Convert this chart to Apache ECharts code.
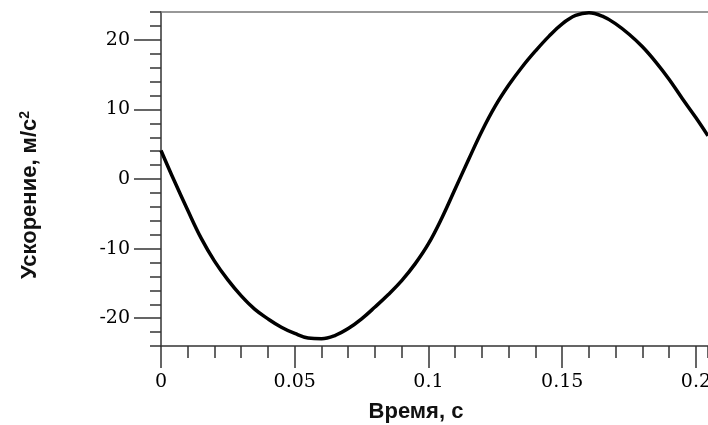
<!DOCTYPE html>
<html>
<head>
<meta charset="utf-8">
<title>Ускорение</title>
<script src="https://cdn.jsdelivr.net/npm/echarts@6/dist/echarts.min.js"></script>
<style>
    html, body { margin: 0; padding: 0; background: #fff; }
    #chart { width: 708px; height: 425px; }
</style>
</head>
<body>
<div id="chart"></div>
<script>
// Acceleration vs time

// Time, s
const timeValues = [0, 0.005, 0.01, 0.015, 0.02, 0.025, 0.03, 0.035, 0.04, 0.045,
    0.05, 0.055, 0.06, 0.065, 0.07, 0.075, 0.08, 0.085, 0.09,
    0.095, 0.1, 0.105, 0.11, 0.115, 0.12, 0.125, 0.13, 0.135, 0.14,
    0.145, 0.15, 0.155, 0.16, 0.165, 0.17, 0.175, 0.18, 0.185, 0.19,
    0.195, 0.2, 0.2045];
// Acceleration, m/s^2
const accelValues = [4.1, -0.3, -4.5, -8.5, -11.8, -14.5, -16.8, -18.7, -20.1, -21.3,
    -22.2, -22.85, -22.95, -22.5, -21.5, -20.1, -18.4, -16.6, -14.6,
    -12.2, -9.3, -5.6, -1.4, 2.8, 6.9, 10.5, 13.5, 16.1, 18.4,
    20.5, 22.3, 23.5, 23.9, 23.4, 22.3, 20.8, 19.0, 16.8, 14.3,
    11.5, 8.8, 6.2];

// Axis ranges and tick labels
const xRange = [0, 0.2045];
const yRange = [-24, 24];
const xMajorTicks = [0, 0.05, 0.1, 0.15, 0.2];
const yMajorTicks = [-20, -10, 0, 10, 20];

const axisColor = '#333';
const tickFont = 'DejaVu Serif';

const chart = echarts.init(document.getElementById('chart'));

const points = timeValues.map((t, i) => [t, accelValues[i]]);

const option = {
    animation: false,
    grid: {
        left: 161,
        right: 0,
        top: 12,
        bottom: 79,
        containLabel: false,
        outerBoundsMode: 'none'
    },
    xAxis: [
        // minor ticks + axis line
        {
            type: 'value', min: xRange[0], max: xRange[1], interval: 0.01,
            position: 'bottom',
            axisLine: { show: true, onZero: false, lineStyle: { color: axisColor, width: 1.5 } },
            axisTick: { show: true, inside: false, length: 12, lineStyle: { color: axisColor, width: 1.5 } },
            axisLabel: { show: false },
            splitLine: { show: false }
        },
        // major ticks + labels
        {
            type: 'value', min: xRange[0], max: xRange[1],
            position: 'bottom',
            axisLine: { show: false, onZero: false },
            axisTick: { show: true, inside: false, length: 22, customValues: xMajorTicks,
                lineStyle: { color: axisColor, width: 1.5 } },
            axisLabel: { show: true, customValues: xMajorTicks, margin: 27,
                fontFamily: tickFont, fontSize: 19, color: '#000' },
            splitLine: { show: false }
        },
        // top frame line
        {
            type: 'value', min: xRange[0], max: xRange[1],
            position: 'top',
            axisLine: { show: true, onZero: false, lineStyle: { color: '#777', width: 1.5 } },
            axisTick: { show: false },
            axisLabel: { show: false },
            splitLine: { show: false }
        }
    ],
    yAxis: [
        {
            type: 'value', min: yRange[0], max: yRange[1], interval: 2,
            position: 'left',
            axisLine: { show: true, onZero: false, lineStyle: { color: axisColor, width: 1.5 } },
            axisTick: { show: true, inside: false, length: 11, lineStyle: { color: axisColor, width: 1.5 } },
            axisLabel: { show: false },
            splitLine: { show: false }
        },
        {
            type: 'value', min: yRange[0], max: yRange[1],
            position: 'left',
            axisLine: { show: false, onZero: false },
            axisTick: { show: true, inside: false, length: 27, customValues: yMajorTicks,
                lineStyle: { color: axisColor, width: 1.5 } },
            axisLabel: { show: true, customValues: yMajorTicks, margin: 31,
                fontFamily: tickFont, fontSize: 19, color: '#000' },
            splitLine: { show: false }
        }
    ],
    graphic: [
        {
            type: 'text',
            x: 30, y: 195,
            rotation: Math.PI / 2,
            style: {
                text: '{a|Ускорение, м/с}{s|2}',
                align: 'center',
                verticalAlign: 'middle',
                rich: {
                    a: { fontFamily: 'Liberation Sans', fontWeight: 'bold', fontSize: 22, lineHeight: 24, fill: '#111' },
                    s: { fontFamily: 'Liberation Sans', fontWeight: 'bold', fontSize: 14, lineHeight: 24, verticalAlign: 'top', fill: '#111' }
                }
            }
        },
        {
            type: 'text',
            x: 416, y: 412,
            style: {
                text: 'Время, с',
                align: 'center',
                verticalAlign: 'middle',
                fontFamily: 'Liberation Sans',
                fontWeight: 'bold',
                fontSize: 22,
                fill: '#111'
            }
        }
    ],
    series: [
        {
            type: 'line',
            xAxisIndex: 0,
            yAxisIndex: 0,
            data: points,
            smooth: 0.4,
            showSymbol: false,
            lineStyle: { color: '#000', width: 3.5 }
        }
    ]
};

chart.setOption(option);

window.addEventListener('resize', function() {
    chart.resize();
});
</script>
</body>
</html>
